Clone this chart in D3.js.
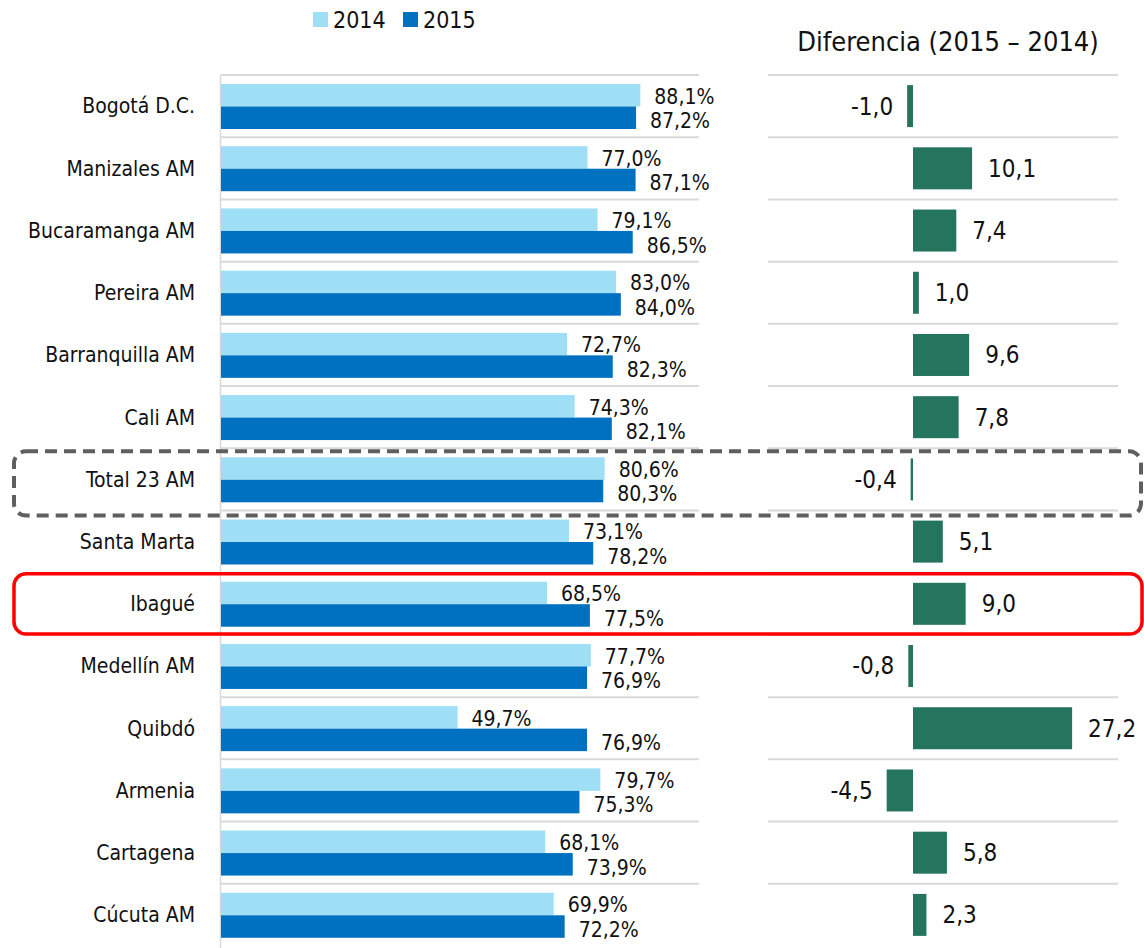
<!DOCTYPE html>
<html>
<head>
<meta charset="utf-8">
<script src="https://cdn.jsdelivr.net/npm/d3@7"></script>
<style>
  body { margin: 0; background: #fff; }
  svg text { font-family: "Liberation Sans Narrow", "DejaVu Sans Condensed", sans-serif; fill: #111; }
</style>
</head>
<body>
<div id="chart"></div>
<script>
// Data
const cities = ["Bogotá D.C.", "Manizales AM", "Bucaramanga AM", "Pereira AM", "Barranquilla AM",
  "Cali AM", "Total 23 AM", "Santa Marta", "Ibagué", "Medellín AM", "Quibdó", "Armenia",
  "Cartagena", "Cúcuta AM"];
const years = ["2014", "2015"];
const values2014 = [88.1, 77.0, 79.1, 83.0, 72.7, 74.3, 80.6, 73.1, 68.5, 77.7, 49.7, 79.7, 68.1, 69.9];
const values2015 = [87.2, 87.1, 86.5, 84.0, 82.3, 82.1, 80.3, 78.2, 77.5, 76.9, 76.9, 75.3, 73.9, 72.2];
const diffs = [-1.0, 10.1, 7.4, 1.0, 9.6, 7.8, -0.4, 5.1, 9.0, -0.8, 27.2, -4.5, 5.8, 2.3];
const diffTitle = "Diferencia (2015 \u2013 2014)";
const dashedRow = "Total 23 AM";
const redRow = "Ibagué";

const width = 1144, height = 948;
const colors = { "2014": "#9fdff6", "2015": "#0070c0" };
const diffColor = "#24745e";
const gridColor = "#d9d9d9";

const fmt = v => v.toFixed(1).replace(".", ",");

const svg = d3.select("#chart").append("svg")
  .attr("width", width)
  .attr("height", height);

// Scales
const y = d3.scaleBand().domain(cities).range([75, 946]);
const inner = d3.scaleBand().domain(years).range([9, 54]);
const x = d3.scaleLinear().domain([0, 100]).range([221, 697]);
const xd = d3.scaleLinear().domain([-10, 30]).range([854.5, 1088.5]);

const rows = cities.map((c, i) => ({ city: c, "2014": values2014[i], "2015": values2015[i], diff: diffs[i] }));

// Grid lines (row separators)
svg.append("g").selectAll("line")
  .data(cities)
  .join("line")
  .attr("x1", 221).attr("x2", 699)
  .attr("y1", d => y(d)).attr("y2", d => y(d))
  .attr("stroke", gridColor).attr("stroke-width", 2);

svg.append("g").selectAll("line")
  .data(cities)
  .join("line")
  .attr("x1", 768).attr("x2", 1118)
  .attr("y1", d => y(d)).attr("y2", d => y(d))
  .attr("stroke", gridColor).attr("stroke-width", 2);

// Left axis line
svg.append("line")
  .attr("x1", 220.5).attr("x2", 220.5)
  .attr("y1", y.range()[0]).attr("y2", height)
  .attr("stroke", gridColor).attr("stroke-width", 1.5);

// Category labels
svg.append("g").selectAll("text")
  .data(cities)
  .join("text")
  .attr("x", 195)
  .attr("y", d => y(d) + y.bandwidth() / 2)
  .attr("dy", "0.35em")
  .attr("text-anchor", "end")
  .attr("font-size", 21)
  .text(d => d);

// Bars 2014 / 2015
const groups = svg.append("g").selectAll("g")
  .data(rows)
  .join("g")
  .attr("transform", d => `translate(0,${y(d.city)})`);

groups.selectAll("rect")
  .data(d => years.map(k => ({ key: k, value: d[k] })))
  .join("rect")
  .attr("x", x(0))
  .attr("y", d => inner(d.key))
  .attr("width", d => x(d.value) - x(0))
  .attr("height", inner.bandwidth())
  .attr("fill", d => colors[d.key]);

groups.selectAll("text")
  .data(d => years.map(k => ({ key: k, value: d[k] })))
  .join("text")
  .attr("x", d => x(d.value) + 14)
  .attr("y", d => inner(d.key) + inner.bandwidth() / 2 + (d.key === "2014" ? 1 : 3))
  .attr("dy", "0.35em")
  .attr("font-size", 21)
  .text(d => fmt(d.value) + "%");

// Difference bars
const dh = 42;
svg.append("g").selectAll("rect")
  .data(rows)
  .join("rect")
  .attr("x", d => Math.min(xd(0), xd(d.diff)))
  .attr("y", d => y(d.city) + (y.bandwidth() - dh) / 2)
  .attr("width", d => Math.max(2, Math.abs(xd(d.diff) - xd(0))))
  .attr("height", dh)
  .attr("fill", diffColor);

svg.append("g").selectAll("text")
  .data(rows)
  .join("text")
  .attr("x", d => d.diff < 0 ? xd(d.diff) - 14 : xd(d.diff) + 16)
  .attr("y", d => y(d.city) + y.bandwidth() / 2)
  .attr("dy", "0.35em")
  .attr("text-anchor", d => d.diff < 0 ? "end" : "start")
  .attr("font-size", 24)
  .text(d => fmt(d.diff));

// Titles / legend
svg.append("text")
  .attr("x", 948).attr("y", 42)
  .attr("dy", "0.35em")
  .attr("text-anchor", "middle")
  .attr("font-size", 27)
  .text(diffTitle);

const legend = svg.append("g").attr("transform", "translate(313,12)");
const lg = legend.selectAll("g")
  .data(years)
  .join("g")
  .attr("transform", (d, i) => `translate(${i * 90},0)`);
lg.append("rect").attr("width", 15).attr("height", 15).attr("fill", d => colors[d]);
lg.append("text").attr("x", 20).attr("y", 8).attr("dy", "0.35em")
  .attr("font-size", 23).text(d => d);

// Highlight boxes
svg.append("rect")
  .attr("x", 14).attr("y", y(dashedRow) + 3)
  .attr("width", 1127).attr("height", y.bandwidth() + 2)
  .attr("rx", 12)
  .attr("fill", "none")
  .attr("stroke", "#5f5f5f")
  .attr("stroke-width", 4)
  .attr("stroke-dasharray", "12,7");

svg.append("rect")
  .attr("x", 14).attr("y", y(redRow) + 1)
  .attr("width", 1128).attr("height", y.bandwidth() - 2)
  .attr("rx", 12)
  .attr("fill", "none")
  .attr("stroke", "#ff0000")
  .attr("stroke-width", 3.5);
</script>
</body>
</html>
